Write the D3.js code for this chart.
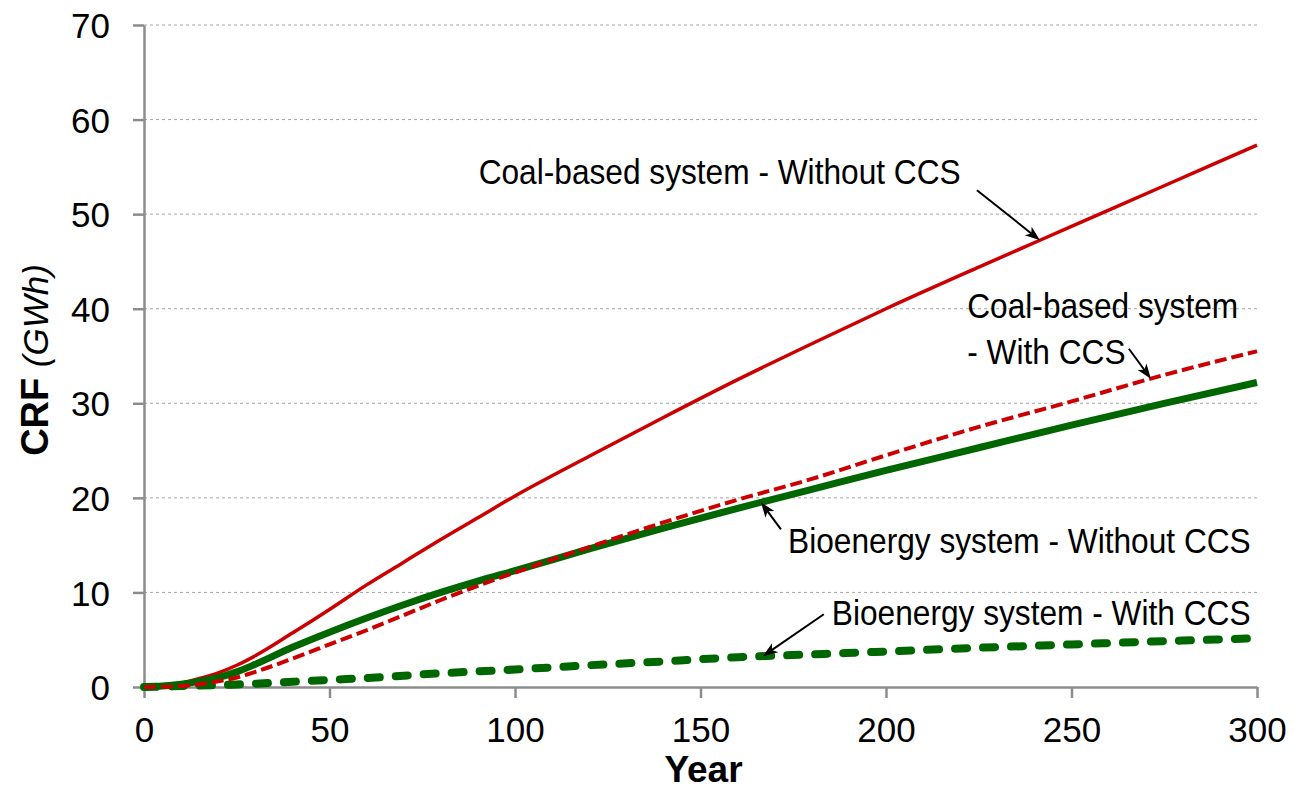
<!DOCTYPE html>
<html>
<head>
<meta charset="utf-8">
<script src="https://cdn.jsdelivr.net/npm/d3@7"></script>
<style>
  html, body { margin: 0; padding: 0; background: #fff; }
  svg { display: block; font-family: "Liberation Sans", Arial, sans-serif; }
</style>
</head>
<body>
<svg id="chart" width="1295" height="790"></svg>
<script>
// Cumulative radiative forcing (GWh) over 300 years for four systems
const years = [0, 5, 10, 15, 20, 25, 30, 40, 50, 60, 70, 80, 90, 100, 120, 140, 160, 180, 200, 225, 250, 275, 300];
const coalNoCCS = [0, 0.1, 0.4, 0.9, 1.5, 2.3, 3.3, 5.7, 8.2, 10.8, 13.2, 15.6, 17.9, 20.2, 24.4, 28.5, 32.5, 36.3, 40.0, 44.4, 48.7, 53.0, 57.3];
const coalCCS   = [0, 0.02, 0.1, 0.3, 0.6, 1.0, 1.6, 3.0, 4.5, 6.0, 7.6, 9.2, 10.7, 12.1, 14.8, 17.4, 19.8, 22.0, 24.5, 27.5, 30.2, 33.0, 35.5];
const bioNoCCS  = [0, 0.1, 0.3, 0.6, 1.0, 1.6, 2.4, 4.2, 5.8, 7.3, 8.7, 10.0, 11.2, 12.3, 14.6, 16.8, 18.9, 20.9, 22.9, 25.3, 27.7, 30.0, 32.2];
const bioCCS    = [0, 0.03, 0.1, 0.15, 0.2, 0.27, 0.35, 0.55, 0.75, 0.95, 1.2, 1.45, 1.65, 1.85, 2.3, 2.7, 3.15, 3.45, 3.75, 4.15, 4.5, 4.85, 5.15];

const xTicks = [0, 50, 100, 150, 200, 250, 300];
const yTicks = [0, 10, 20, 30, 40, 50, 60, 70];

const RED = "#cc0000";
const GREEN = "#006600";
const AXIS = "#8c8c8c";

const svg = d3.select("#chart");
const x = d3.scaleLinear().domain([0, 300]).range([144, 1257]);
const y = d3.scaleLinear().domain([0, 70]).range([687, 25]);

// horizontal dashed gridlines
svg.append("g").selectAll("line")
  .data(yTicks.filter(d => d > 0))
  .join("line")
  .attr("x1", x(0)).attr("x2", x(300))
  .attr("y1", d => y(d)).attr("y2", d => y(d))
  .attr("stroke", "#a6a6a6").attr("stroke-width", 1)
  .attr("stroke-dasharray", "3,3");

// axes
const yAxis = svg.append("g")
  .attr("transform", `translate(${x(0)},0)`)
  .call(d3.axisLeft(y).tickValues(yTicks).tickFormat(d3.format("d"))
    .tickSize(11).tickSizeOuter(0).tickPadding(23));
const xAxis = svg.append("g")
  .attr("transform", `translate(0,${y(0)})`)
  .call(d3.axisBottom(x).tickValues(xTicks).tickFormat(d3.format("d"))
    .tickSize(11).tickSizeOuter(0).tickPadding(19));

[yAxis, xAxis].forEach(g => {
  g.select(".domain").attr("stroke", AXIS).attr("stroke-width", 2.5);
  g.selectAll(".tick line").attr("stroke", AXIS).attr("stroke-width", 2.5);
  g.selectAll(".tick text").attr("fill", "#000")
    .style("font-size", "35px").style("font-family", "'Liberation Sans', Arial, sans-serif");
});
yAxis.selectAll(".tick text").attr("dy", "0.36em");

// axis titles
svg.append("text")
  .attr("x", (x(0) + x(300)) / 2 + 3).attr("y", 782)
  .attr("text-anchor", "middle")
  .style("font-size", "37px").style("font-weight", "bold")
  .text("Year");

const yTitle = svg.append("text")
  .attr("transform", "translate(48,360) rotate(-90)")
  .attr("text-anchor", "middle");
yTitle.append("tspan").style("font-size", "38px").style("font-weight", "bold").text("CRF ");
yTitle.append("tspan").style("font-size", "35px").style("font-style", "italic").text("(GWh)");

// series lines
const series = [
  { name: "coalNoCCS", values: coalNoCCS, color: RED,   width: 3.5, dash: null,   cap: "butt" },
  { name: "bioNoCCS",  values: bioNoCCS,  color: GREEN, width: 7,   dash: null,   cap: "butt" },
  { name: "bioCCS",    values: bioCCS,    color: GREEN, width: 8,   dash: "12,16", cap: "round" },
  { name: "coalCCS",   values: coalCCS,   color: RED,   width: 4,   dash: "12,5", cap: "butt" }
];

const line = d3.line()
  .x(d => x(d[0]))
  .y(d => y(d[1]))
  .curve(d3.curveMonotoneX);

svg.append("g").selectAll("path")
  .data(series)
  .join("path")
  .attr("d", s => line(years.map((yr, i) => [yr, s.values[i]])))
  .attr("fill", "none")
  .attr("stroke", s => s.color)
  .attr("stroke-width", s => s.width)
  .attr("stroke-dasharray", s => s.dash)
  .attr("stroke-linecap", s => s.cap)
  .attr("stroke-linejoin", "round");

// annotation arrows and labels
const defs = svg.append("defs");
defs.append("marker")
  .attr("id", "arrowhead")
  .attr("viewBox", "-16 -7 17 14")
  .attr("refX", 0).attr("refY", 0)
  .attr("markerWidth", 17).attr("markerHeight", 14)
  .attr("markerUnits", "userSpaceOnUse")
  .attr("orient", "auto")
  .append("path")
  .attr("d", "M0,0 L-15,-5.5 L-11,0 L-15,5.5 Z")
  .attr("fill", "#000");

function valueAt(values, yr) {
  const i = d3.bisectRight(years, yr) - 1;
  if (i >= years.length - 1) return values[values.length - 1];
  const t = (yr - years[i]) / (years[i + 1] - years[i]);
  return values[i] + t * (values[i + 1] - values[i]);
}

const annotations = [
  { lines: ["Coal-based system - Without CCS"], values: coalNoCCS, year: 241.5, tail: [-63, -50], labelX: 90.2, labelY: 53.2 },
  { lines: ["Coal-based system", "- With CCS"], values: coalCCS, year: 271.4, tail: [-22, -30], labelX: 221.9, labelY: 38.98 },
  { lines: ["Bioenergy system - Without CCS"], values: bioNoCCS, year: 166.3, tail: [20, 27], labelX: 173.6, labelY: 14.2 },
  { lines: ["Bioenergy system - With CCS"], values: bioCCS, year: 166.8, tail: [61, -42], labelX: 185.4, labelY: 6.55 }
];

const ann = svg.append("g");
annotations.forEach(a => {
  const tx = x(a.year), ty = y(valueAt(a.values, a.year));
  const sx = tx + a.tail[0], sy = ty + a.tail[1];
  const len = Math.hypot(tx - sx, ty - sy);
  const ex = tx - (tx - sx) / len * 9, ey = ty - (ty - sy) / len * 9;
  ann.append("line")
    .attr("x1", sx).attr("y1", sy).attr("x2", ex).attr("y2", ey)
    .attr("stroke", "#000").attr("stroke-width", 2);
  ann.append("path")
    .attr("d", `M${ex},${ey}L${tx},${ty}`)
    .attr("stroke", "none").attr("fill", "none")
    .attr("marker-end", "url(#arrowhead)");
  a.lines.forEach((txt, k) => {
    ann.append("g")
      .attr("transform", `translate(${x(a.labelX)},${y(a.labelY) + k * 46}) scale(0.905,1)`)
      .append("text")
      .style("font-size", "35px")
      .attr("fill", "#000")
      .text(txt);
  });
});
</script>
</body>
</html>
